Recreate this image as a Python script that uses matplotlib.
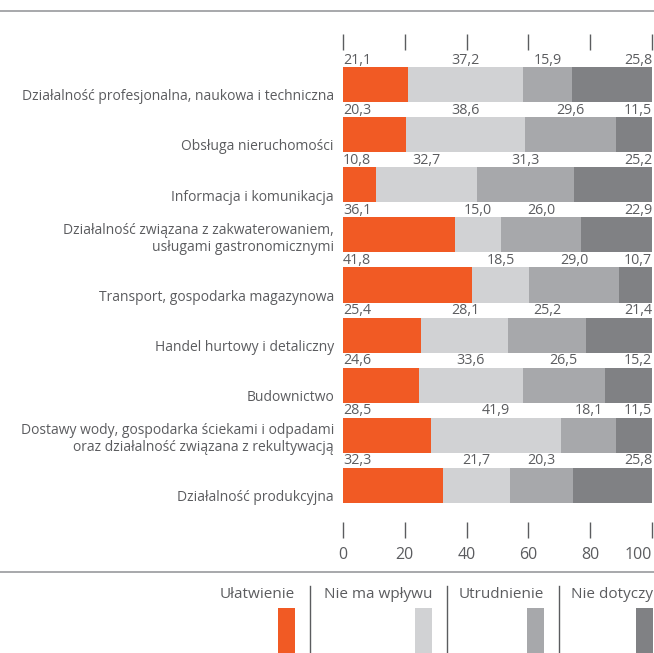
import matplotlib
matplotlib.use("Agg")
import matplotlib.pyplot as plt
from matplotlib.lines import Line2D
from matplotlib.patches import Rectangle
import numpy as np

plt.rcParams['font.family'] = ['Open Sans', 'DejaVu Sans']

categories = [
    "Działalność profesjonalna, naukowa i techniczna",
    "Obsługa nieruchomości",
    "Informacja i komunikacja",
    "Działalność związana z zakwaterowaniem,\nusługami gastronomicznymi",
    "Transport, gospodarka magazynowa",
    "Handel hurtowy i detaliczny",
    "Budownictwo",
    "Dostawy wody, gospodarka ściekami i odpadami\noraz działalność związana z rekultywacją",
    "Działalność produkcyjna",
]
ulatwienie = [21.1, 20.3, 10.8, 36.1, 41.8, 25.4, 24.6, 28.5, 32.3]
nie_ma_wplywu = [37.2, 38.6, 32.7, 15.0, 18.5, 28.1, 33.6, 41.9, 21.7]
utrudnienie = [15.9, 29.6, 31.3, 26.0, 29.0, 25.2, 26.5, 18.1, 20.3]
nie_dotyczy = [25.8, 11.5, 25.2, 22.9, 10.7, 21.4, 15.2, 11.5, 25.8]
series_names = ["Ułatwienie", "Nie ma wpływu", "Utrudnienie", "Nie dotyczy"]
colors = ["#F15A24", "#D1D2D4", "#A7A8AB", "#808184"]
xticks = [0, 20, 40, 60, 80, 100]

TXT = "#5b5c5f"
W, H = 654, 653
fig = plt.figure(figsize=(W / 100, H / 100), dpi=100)

ax_top, ax_bot = 34, 538
ax = fig.add_axes([343 / W, 1 - ax_bot / H, (652 - 343) / W, (ax_bot - ax_top) / H])

series = [ulatwienie, nie_ma_wplywu, utrudnienie, nie_dotyczy]
y = np.arange(len(categories))
bh = 0.7
left = np.zeros(len(categories))
for vals, c in zip(series, colors):
    ax.barh(y, vals, left=left, height=bh, color=c, linewidth=0)
    left = left + np.array(vals)

ax.set_xlim(0, 100)
ax.set_ylim(9.05, -1.01)
for s in ax.spines.values():
    s.set_visible(False)
ax.set_yticks([])
ax.set_xticks(xticks)
ax.set_xticklabels([str(t) for t in xticks])
ax.tick_params(axis='x', which='both', top=True, bottom=True, direction='in',
               length=11.5, width=1.0, color=TXT, labelsize=11.5, labelcolor=TXT,
               pad=6.5)
ax.get_xticklabels()[-1].set_horizontalalignment('right')
ax.get_xticklabels()[-1].set_x(100)

def fmt(v):
    return f"{v:.1f}".replace(".", ",")

# value labels above each bar
for i in range(len(categories)):
    vals = [s[i] for s in series]
    cum = np.cumsum([0] + vals)
    for j, v in enumerate(vals):
        if j == 0:
            xpos, ha = 0, 'left'
        elif j == len(vals) - 1:
            xpos, ha = 100, 'right'
        else:
            xpos, ha = (cum[j] + cum[j + 1]) / 2, 'center'
        ax.annotate(fmt(v), xy=(xpos, i - bh / 2), xytext=(0, 2.5),
                    textcoords='offset points', ha=ha, va='baseline',
                    fontsize=10.3, color=TXT, annotation_clip=False)
    ax.annotate(categories[i], xy=(0, i + bh / 2), xytext=(-6.5, -1.6),
                textcoords='offset points', ha='right', va='bottom',
                fontsize=10, color=TXT, linespacing=1.15,
                multialignment='right', annotation_clip=False)

# horizontal rules
for yy in (11, 572):
    fig.add_artist(Line2D([0, 1], [1 - yy / H, 1 - yy / H], color="#A7A8AB",
                          linewidth=1.4, transform=fig.transFigure))

# legend
sw_right = [295, 432, 544, 653]
seps = [310, 447, 559]
for name, c, xr in zip(series_names, colors, sw_right):
    fig.text(xr / W, 1 - 598 / H, name, ha='right', va='baseline',
             fontsize=11, color=TXT)
    fig.add_artist(Rectangle(((xr - 17) / W, 0), 17 / W, (H - 608) / H,
                             facecolor=c, edgecolor='none',
                             transform=fig.transFigure))
for sx in seps:
    fig.add_artist(Line2D([sx / W, sx / W], [0, 1 - 586 / H], color=TXT,
                          linewidth=1.0, transform=fig.transFigure))

fig.savefig("out.png", dpi=100, facecolor="white")
